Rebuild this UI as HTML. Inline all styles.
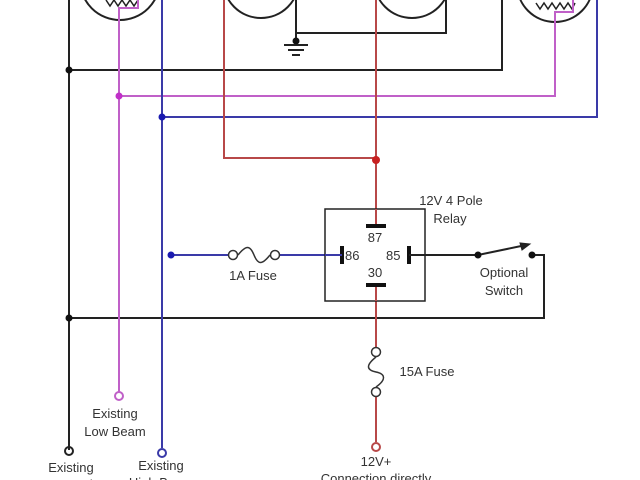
<!DOCTYPE html>
<html><head><meta charset="utf-8"><style>html,body{margin:0;padding:0;background:#fff}svg{display:block}text{font-family:"Liberation Sans",sans-serif;font-size:13px;fill:#333}</style></head>
<body>
<svg width="640" height="480" viewBox="0 0 640 480" xmlns="http://www.w3.org/2000/svg">
<g fill="none" stroke-width="2">
<!-- lamps -->
<circle cx="120" cy="-20" r="40" stroke="#222"/>
<circle cx="261" cy="-20" r="38" stroke="#222"/>
<circle cx="412" cy="-20" r="38" stroke="#222"/>
<circle cx="555" cy="-16" r="38" stroke="#222"/>
<polyline points="106,0 110,6 114,0 118,6 122,0 126,6 130,0 134,6 138,0" stroke="#222" stroke-width="1.5"/>
<polyline points="536,3 540,9 544,3 548,9 552,3 556,9 560,3 564,9 568,3 572,9 575,3" stroke="#222" stroke-width="1.5"/>
<!-- black -->
<polyline points="69,0 69,450" stroke="#222"/>
<polyline points="69,70 502,70 502,0" stroke="#222"/>
<polyline points="296,0 296,33 446,33 446,0" stroke="#222"/>
<line x1="296" y1="33" x2="296" y2="45" stroke="#222"/>
<line x1="284" y1="45" x2="308" y2="45" stroke="#222"/>
<line x1="288" y1="50" x2="304" y2="50" stroke="#222"/>
<line x1="292" y1="55" x2="300" y2="55" stroke="#222"/>
<polyline points="69,318 544,318 544,255 532,255" stroke="#222"/>
<!-- magenta -->
<polyline points="119,392 119,8 138,8 138,0" stroke="#c060c8"/>
<polyline points="119,96 555,96 555,12 573,12 573,0" stroke="#c060c8"/>
<!-- blue -->
<polyline points="162,0 162,448" stroke="#3a3aa8"/>
<polyline points="162,117 597,117 597,0" stroke="#3a3aa8"/>
<polyline points="171,255 229,255" stroke="#3a3aa8"/>
<polyline points="279,255 342,255" stroke="#3a3aa8"/>
<!-- red -->
<polyline points="224,0 224,158 376,158" stroke="#b84848"/>
<polyline points="376,0 376,348" stroke="#b84848"/>
<polyline points="376,396 376,442" stroke="#b84848"/>
<!-- fuses -->
<circle cx="233" cy="255" r="4.5" stroke="#333" stroke-width="1.5"/>
<circle cx="275" cy="255" r="4.5" stroke="#333" stroke-width="1.5"/>
<path d="M238,255 C246,245 250,245 254,255 C258,265 262,265 270,255" stroke="#333" stroke-width="1.5"/>
<circle cx="376" cy="352" r="4.5" stroke="#333" stroke-width="1.5" fill="#fff"/>
<circle cx="376" cy="392" r="4.5" stroke="#333" stroke-width="1.5" fill="#fff"/>
<path d="M376,357 C366,365 366,370 376,372 C386,374 386,380 376,387" stroke="#333" stroke-width="1.5"/>
<!-- relay -->
<rect x="325" y="209" width="100" height="92" stroke="#222" fill="#fff" stroke-width="1.5"/>
<line x1="376" y1="209" x2="376" y2="226" stroke="#b84848"/>
<line x1="376" y1="285" x2="376" y2="301" stroke="#b84848"/>
<line x1="366" y1="226" x2="386" y2="226" stroke="#111" stroke-width="4"/>
<line x1="366" y1="285" x2="386" y2="285" stroke="#111" stroke-width="4"/>
<line x1="342" y1="246" x2="342" y2="264" stroke="#111" stroke-width="4"/>
<line x1="409" y1="246" x2="409" y2="264" stroke="#111" stroke-width="4"/>
<line x1="325" y1="255" x2="342" y2="255" stroke="#3a3aa8"/>
<line x1="409" y1="255" x2="478" y2="255" stroke="#222"/>
<line x1="478" y1="255" x2="526" y2="245" stroke="#222"/>
<polygon points="530,244 520,243 522,250" fill="#222" stroke="#222" stroke-width="1"/>
<!-- terminals -->
<circle cx="119" cy="396" r="4" stroke="#c060c8"/>
<circle cx="69" cy="451" r="4" stroke="#222"/>
<circle cx="162" cy="453" r="4" stroke="#3a3aa8"/>
<circle cx="376" cy="447" r="4" stroke="#b84848"/>
</g>
<g stroke="none">
<circle cx="69" cy="70" r="3.5" fill="#111"/>
<circle cx="69" cy="318" r="3.5" fill="#111"/>
<circle cx="296" cy="41" r="3.5" fill="#111"/>
<circle cx="119" cy="96" r="3.5" fill="#c030c8"/>
<circle cx="162" cy="117" r="3.5" fill="#1a1ab0"/>
<circle cx="171" cy="255" r="3.5" fill="#1a1ab0"/>
<circle cx="376" cy="160" r="4" fill="#c82020"/>
<circle cx="478" cy="255" r="3.5" fill="#111"/>
<circle cx="532" cy="255" r="3.5" fill="#111"/>
</g>
<text x="451" y="205" text-anchor="middle">12V 4 Pole</text>
<text x="450" y="223" text-anchor="middle">Relay</text>
<text x="375" y="242" text-anchor="middle">87</text>
<text x="375" y="277" text-anchor="middle">30</text>
<text x="345" y="260">86</text>
<text x="386" y="260">85</text>
<text x="253" y="280" text-anchor="middle">1A Fuse</text>
<text x="504" y="277" text-anchor="middle">Optional</text>
<text x="504" y="295" text-anchor="middle">Switch</text>
<text x="427" y="376" text-anchor="middle">15A Fuse</text>
<text x="115" y="418" text-anchor="middle">Existing</text>
<text x="115" y="436" text-anchor="middle">Low Beam</text>
<text x="71" y="472" text-anchor="middle">Existing</text>
<text x="71" y="489" text-anchor="middle">Ground</text>
<text x="161" y="470" text-anchor="middle">Existing</text>
<text x="161" y="487" text-anchor="middle">High Beam</text>
<text x="376" y="466" text-anchor="middle">12V+</text>
<text x="376" y="483" text-anchor="middle">Connection directly</text>
</svg>
</body></html>
